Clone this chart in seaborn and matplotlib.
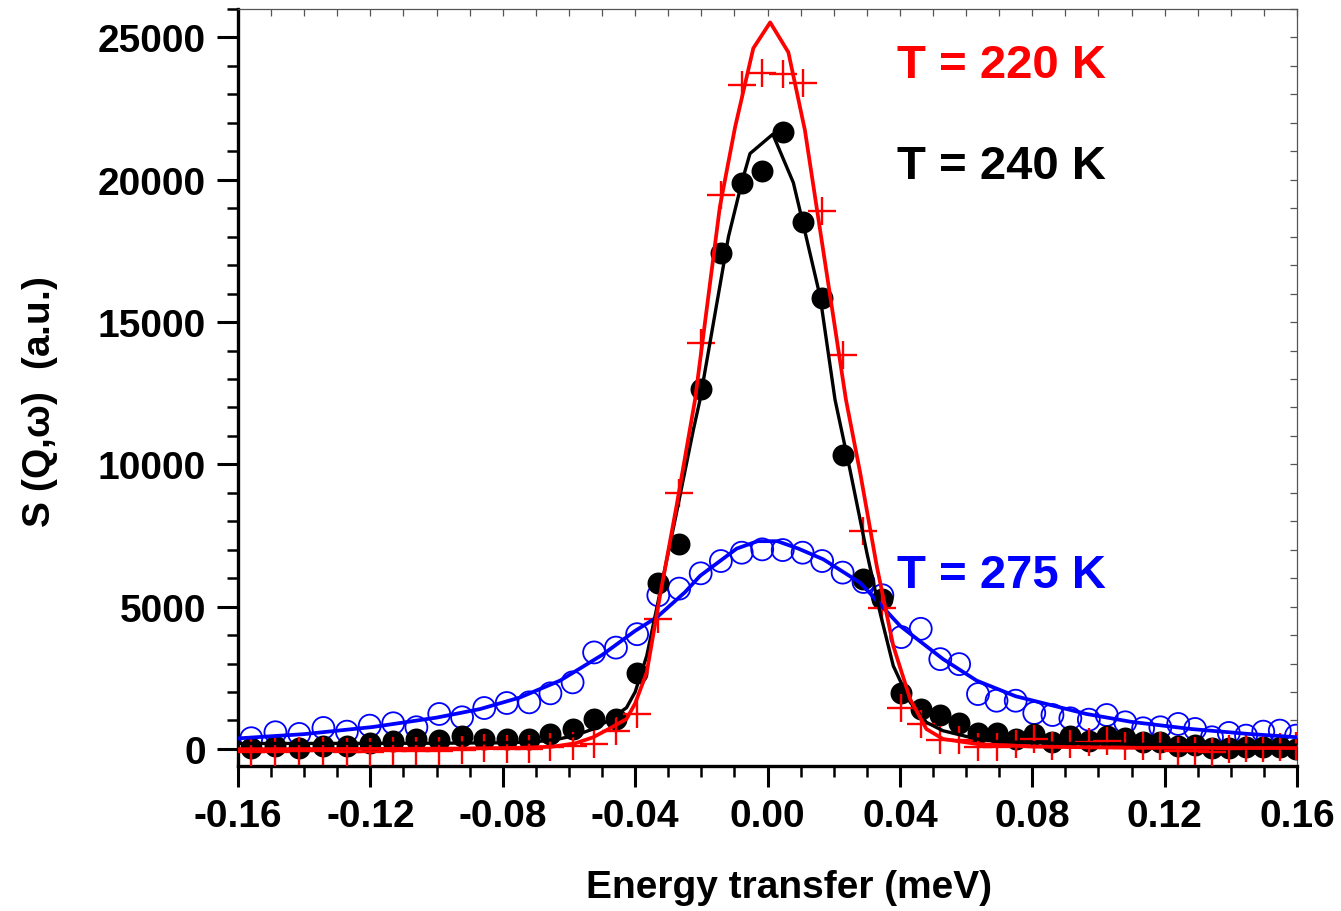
import matplotlib
matplotlib.use("Agg")
import matplotlib.pyplot as plt
import seaborn as sns
import numpy as np
import pandas as pd
from matplotlib.ticker import MultipleLocator, FormatStrFormatter

# measured points (energy transfer in meV)
energy = [-0.1560, -0.1487, -0.1415, -0.1342, -0.1271, -0.1202, -0.1131, -0.1061,
          -0.0992, -0.0923, -0.0856, -0.0788, -0.0720, -0.0656, -0.0589, -0.0524,
          -0.0458, -0.0394, -0.0330, -0.0267, -0.0202, -0.0141, -0.0078, -0.0016,
          0.0046, 0.0106, 0.0165, 0.0227, 0.0290, 0.0347, 0.0404, 0.0463,
          0.0522, 0.0579, 0.0636, 0.0692, 0.0750, 0.0806, 0.0861, 0.0915,
          0.0971, 0.1025, 0.1081, 0.1135, 0.1187, 0.1241, 0.1292, 0.1343,
          0.1394, 0.1446, 0.1498, 0.1548, 0.1597]

s_240 = [40, 110, 40, 110, 95, 200, 290, 350,
         320, 440, 350, 360, 360, 520, 690, 1060,
         1060, 2680, 5830, 7190, 12660, 17410, 19900, 20320,
         21670, 18500, 15860, 10340, 5960, 5270, 1960, 1390,
         1190, 910, 555, 560, 350, 520, 260, 465,
         290, 465, 375, 235, 255, 95, 140, 25,
         25, 60, 60, 60, 0]

s_220 = [-95, -95, -60, -60, -95, -95, -60, -60,
         -60, -25, 25, 0, 0, 60, 116, 190,
         642, 1227, 4570, 9000, 14260, 19480, 23340, 23760,
         23730, 23410, 18910, 13850, 7650, 4950, 1440, 880,
         330, 330, 60, 60, 175, 350, 116, 175,
         235, 290, 116, 116, 116, -60, -60, -95,
         0, 25, 25, 60, 116]

s_275 = [375, 585, 526, 736, 607, 817, 901, 761,
         1227, 1111, 1437, 1613, 1637, 1953, 2338, 3390,
         3560, 4032, 5399, 5633, 6170, 6602, 6895, 7012,
         6988, 6895, 6602, 6195, 5866, 5399, 3930, 4220,
         3155, 2980, 1928, 1694, 1694, 1262, 1192, 1075,
         1028, 1192, 935, 725, 760, 877, 701, 409,
         561, 467, 607, 643, 467]

# fitted curves
fit240_x = [-0.160, -0.120, -0.100, -0.080, -0.070, -0.063, -0.058, -0.0527, -0.048,
            -0.0426, -0.040, -0.0365, -0.0325, -0.0275, -0.0224, -0.0204, -0.0118,
            -0.0078, -0.0053, 0.0016, 0.0078, 0.0106, 0.0159, 0.0204, 0.0249,
            0.0300, 0.0340, 0.0380, 0.0431, 0.0480, 0.0530, 0.0632, 0.070,
            0.090, 0.120, 0.160]
fit240_y = [190, 195, 200, 215, 250, 350, 480, 700, 1000,
            1450, 2000, 3270, 5490, 8300, 11220, 12270, 18000,
            19900, 20920, 21600, 19900, 18530, 15890, 12270, 9820,
            6900, 4790, 2920, 1640, 935, 640, 350, 250,
            190, 150, 130]

fit220_x = [-0.160, -0.120, -0.090, -0.075, -0.065, -0.0627, -0.058, -0.0527, -0.048,
            -0.0426, -0.040, -0.0365, -0.0325, -0.0275, -0.0219, -0.0144, -0.0098,
            -0.0043, 0.0008, 0.0063, 0.0113, 0.0237, 0.0280, 0.0330, 0.0380,
            0.0431, 0.0480, 0.0530, 0.0632, 0.080, 0.110, 0.160]
fit220_y = [-10, 0, 15, 40, 80, 117, 200, 409, 700,
            1052, 1600, 2688, 5376, 8532, 12270, 19050, 21850,
            24620, 25530, 24480, 21740, 12270, 9700, 6430, 3620,
            1750, 700, 350, 175, 80, 40, 30]

fit275_x = [-0.160, -0.140, -0.1193, -0.100, -0.0869, -0.075, -0.0627, -0.050, -0.040,
            -0.0335, -0.025, -0.0204, -0.0093, -0.003, 0.003, 0.0093, 0.0169,
            0.0280, 0.0401, 0.0530, 0.0632, 0.075, 0.0963, 0.110, 0.128,
            0.145, 0.160]
fit275_y = [370, 520, 770, 1100, 1400, 1800, 2400, 3300, 4150,
            4620, 5500, 6080, 7040, 7300, 7300, 7040, 6660,
            5840, 4320, 3160, 2400, 1850, 1230, 950, 700,
            530, 410]

sns.set_style("ticks")
plt.rcParams["font.family"] = ["Liberation Sans", "DejaVu Sans"]
plt.rcParams["font.weight"] = "bold"
plt.rcParams["axes.unicode_minus"] = False
plt.rcParams["text.color"] = "black"
plt.rcParams["axes.labelcolor"] = "black"
plt.rcParams["xtick.color"] = "black"
plt.rcParams["ytick.color"] = "black"
plt.rcParams["xtick.labelcolor"] = "black"
plt.rcParams["ytick.labelcolor"] = "black"

fig = plt.figure(figsize=(13.41, 9.12), dpi=100)
ax = fig.add_axes([0.1775, 0.159, 0.7897, 0.830])

pts = pd.DataFrame({"E": energy, "s240": s_240, "s220": s_220, "s275": s_275})

sns.scatterplot(data=pts, x="E", y="s275", ax=ax, marker="o", s=250,
                fc="none", ec="#0000ff", linewidth=1.3, zorder=2)
sns.scatterplot(data=pts, x="E", y="s240", ax=ax, marker="o", s=250,
                color="black", ec="black", linewidth=0, zorder=3)
sns.scatterplot(data=pts, x="E", y="s220", ax=ax, marker="+", s=380,
                color="#ff0000", linewidth=1.7, zorder=4)

sns.lineplot(x=fit275_x, y=fit275_y, ax=ax, color="#0000ff", lw=2.7,
             estimator=None, sort=False, zorder=5)
sns.lineplot(x=fit240_x, y=fit240_y, ax=ax, color="black", lw=2.4,
             estimator=None, sort=False, zorder=6)
sns.lineplot(x=fit220_x, y=fit220_y, ax=ax, color="#ff0000", lw=2.7,
             estimator=None, sort=False, zorder=7)

ax.set_xlim(-0.16, 0.16)
ax.set_ylim(-600, 26000)

ax.xaxis.set_major_locator(MultipleLocator(0.04))
ax.xaxis.set_minor_locator(MultipleLocator(0.01))
ax.xaxis.set_major_formatter(FormatStrFormatter("%.2f"))
ax.yaxis.set_major_locator(MultipleLocator(5000))
ax.yaxis.set_minor_locator(MultipleLocator(1000))

ax.tick_params(axis="both", which="major", direction="out", length=15, width=2.2,
               labelsize=28, pad=8, color="black", labelcolor="black")
ax.tick_params(axis="both", which="minor", direction="out", length=8, width=1.8,
               color="black")
for lab in ax.get_xticklabels() + ax.get_yticklabels():
    lab.set_fontweight("bold")

for side in ["left", "bottom"]:
    ax.spines[side].set_linewidth(2.4)
    ax.spines[side].set_color("black")
for side in ["top", "right"]:
    ax.spines[side].set_visible(True)
    ax.spines[side].set_linewidth(0.9)
    ax.spines[side].set_color("#555555")

# inward ticks on the top and right frame
top = ax.secondary_xaxis("top")
top.xaxis.set_major_locator(MultipleLocator(0.01))
top.tick_params(direction="in", length=5, width=0.9, color="#555555", labeltop=False)
top.spines["top"].set_visible(False)
right = ax.secondary_yaxis("right")
right.yaxis.set_major_locator(MultipleLocator(1000))
right.tick_params(direction="in", length=5, width=0.9, color="#555555", labelright=False)
right.spines["right"].set_visible(False)

ax.set_xlabel("Energy transfer (meV)", fontsize=28, fontweight="bold", va="center",
              color="black")
ax.xaxis.set_label_coords(0.52, -0.16)
ax.set_ylabel(r"S (Q,$\mathregular{\omega}$)  (a.u.)", fontsize=28, fontweight="bold",
              va="center", color="black")
ax.yaxis.set_label_coords(-0.187, 0.482)

ax.text(0.0391, 23595, "T = 220 K", color="#ff0000", fontsize=34, fontweight="bold",
        ha="left", va="baseline")
ax.text(0.0391, 20054, "T = 240 K", color="black", fontsize=34, fontweight="bold",
        ha="left", va="baseline")
ax.text(0.0391, 5680, "T = 275 K", color="#0000ff", fontsize=34, fontweight="bold",
        ha="left", va="baseline")

fig.savefig("out.png", dpi=100)
plt.close(fig)
